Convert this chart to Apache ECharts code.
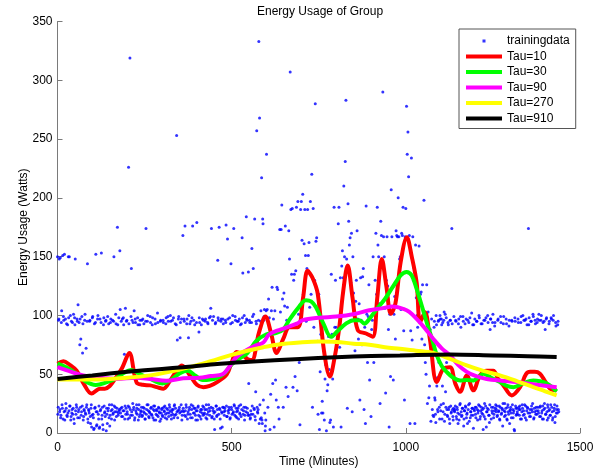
<!DOCTYPE html>
<html>
<head>
<meta charset="utf-8">
<script src="https://cdn.jsdelivr.net/npm/echarts@6/dist/echarts.min.js"></script>
<style>
html,body{margin:0;padding:0;background:#fff;}
#chart{width:602px;height:473px;}
</style>
</head>
<body>
<div id="chart"></div>
<script>
// Energy usage (Watts), one row per hour. Even minutes 0,2,...,1438
var trainingDataEven = [
150,22,97,18,149,15,104,21,12,96,152,19,25,93,14,17,98,150,23,11,95,20,16,101,8,92,19,24,97,13,
18,94,75,22,15,99,68,11,20,96,17,72,24,144,9,19,95,14,21,5,98,16,3,93,22,152,6,18,100,12,
4,97,20,153,15,7,92,23,18,95,2,16,99,21,13,6,94,19,24,96,17,150,11,22,93,18,175,15,98,20,
105,21,14,97,19,92,67,23,16,95,18,12,226,22,319,15,140,96,25,20,104,13,94,17,21,98,11,24,92,16,
19,96,15,22,93,17,12,174,20,95,24,14,18,99,21,16,92,13,23,19,97,11,20,15,94,22,18,10,96,17,
21,14,94,19,23,16,98,12,20,95,17,22,100,15,18,96,20,13,24,93,16,253,79,19,99,22,81,18,97,15,
168,18,95,176,14,22,97,16,81,20,93,13,24,98,176,17,21,92,15,19,179,11,23,86,94,18,12,20,97,15,
22,17,95,13,20,16,93,24,98,19,106,174,14,21,99,12,18,94,23,15,147,96,175,20,4,97,17,22,93,18,
21,96,177,14,165,19,22,98,13,144,20,94,17,174,23,99,14,18,95,21,12,97,16,24,93,166,136,19,100,15,
22,184,96,17,137,15,94,13,16,157,99,140,21,182,11,95,257,18,20,333,268,12,104,217,8,178,96,105,2,11,
237,105,22,114,98,3,33,104,124,42,97,5,104,45,28,124,122,22,12,173,103,173,194,114,22,119,108,176,39,96,
107,31,172,148,307,190,135,191,39,130,135,48,138,192,36,197,101,60,7,190,197,164,203,118,161,190,151,95,140,190,
151,162,107,197,118,220,22,191,90,130,280,163,166,78,16,118,3,52,84,17,27,17,70,11,46,58,2,36,41,82,
54,9,11,135,84,46,5,192,90,130,90,76,80,178,192,73,132,5,142,155,132,210,150,231,283,148,21,195,180,160,
166,128,170,18,150,119,100,70,112,130,172,97,80,110,28,132,96,75,133,140,20,90,8,193,101,60,99,126,45,104,
14,88,96,150,60,101,130,170,118,192,160,150,110,25,180,168,106,290,167,150,106,34,130,167,125,88,5,101,48,207,
167,124,45,101,116,80,172,168,167,200,167,148,150,105,170,168,192,87,28,167,191,278,237,256,218,168,8,87,234,79,
167,130,140,8,160,115,100,90,100,159,94,118,120,80,126,98,198,75,60,50,126,25,103,30,40,88,10,97,20,15,
14,95,28,9,92,47,18,96,22,100,19,97,12,94,25,103,16,35,98,20,14,92,22,8,96,17,174,20,11,99,
18,23,95,12,20,8,97,16,25,90,14,21,99,6,19,93,22,13,17,96,24,10,98,18,15,21,92,4,20,97,
16,22,95,11,19,100,23,14,93,17,20,3,96,25,12,98,18,21,94,15,9,88,97,22,17,101,13,19,94,24,
20,14,96,18,23,11,99,16,21,6,93,19,25,15,97,12,22,18,91,8,20,17,96,24,13,19,2,95,21,16,
18,97,22,15,20,94,12,24,100,19,16,96,23,11,92,21,174,98,17,14,95,20,25,99,13,18,93,22,16,97,
19,101,14,23,96,17,12,94,20,25,88,16,98,11,22,19,95,15,24,97,18,13,100,21,9,94,17,23,92,20
];
// Odd minutes 1,3,...,599 (morning block)
var trainingDataOddEarly = [
16,96,148,20,13,94,24,151,99,18,11,97,21,15,92,150,19,23,100,14,17,94,21,12,98,148,16,22,95,109,
20,13,97,80,18,23,93,14,19,101,16,22,95,12,20,17,96,8,24,15,99,13,4,21,94,18,7,97,16,23,
5,19,94,12,22,3,98,17,14,96,21,8,19,93,24,15,97,12,20,16,95,23,18,101,14,21,92,17,19,155,
17,95,22,14,98,19,12,106,21,96,16,23,93,13,20,99,18,15,94,22,11,97,19,24,16,92,20,14,96,18,
22,14,97,18,21,12,95,16,24,100,19,13,17,94,22,15,98,20,11,23,93,16,19,102,14,21,17,95,12,20,
15,96,22,18,13,93,21,17,99,14,24,19,95,12,20,16,98,23,15,21,92,18,13,97,20,17,94,24,11,19,
21,97,15,19,24,93,12,18,100,22,16,95,20,13,23,96,17,21,11,94,19,22,15,98,14,20,92,17,23,96,
16,20,97,24,12,94,18,21,15,99,22,13,96,19,17,3,93,23,14,20,98,16,21,12,95,18,5,97,22,15,
19,94,23,14,97,17,20,12,93,22,16,100,18,24,15,96,21,13,19,95,23,17,92,14,20,98,16,22,11,94,
18,97,21,15,42,96,12,19,94,23,16,101,20,14,35,93,22,17,96,8,24,95,13,11,182,28,99,17,6,104
];
// Odd minutes 1081,1083,...,1439 (evening block)
var trainingDataOddLate = [
90,30,16,100,40,20,95,60,12,97,24,92,40,18,96,10,101,22,60,15,94,20,12,96,23,18,93,14,21,19,
20,96,14,22,17,93,11,24,99,18,15,21,95,12,19,23,97,16,8,20,94,25,13,18,102,21,15,92,19,22,
13,95,20,17,24,98,12,19,22,93,16,21,14,96,23,5,18,100,20,15,24,97,12,19,94,22,16,91,21,18,
23,15,97,19,12,22,94,17,20,25,99,14,18,21,93,11,24,16,96,19,22,13,95,20,17,3,98,23,15,21,
16,94,20,23,12,99,18,21,15,96,24,13,97,19,22,17,92,14,20,95,23,18,101,12,21,96,16,19,94,22,
17,96,22,14,100,19,23,12,95,21,16,97,18,24,13,93,20,15,98,22,11,96,19,24,14,91,20,17,95,18
];
var oddEarlyStart = 1, oddLateStart = 1081;

// Smoothed curves: [minute, watts]
var tau10 = [[0,59],[17,61],[35,58],[55,53],[75,42],[98,33.5],[122,37.7],[136,37.7],[150,40],[165,46],[185,55],[206,68],[227,43],[245,41],[266,40.5],[285,39],[304,37.7],[322,44],[342,53],[357,57.5],[380,49],[400,41],[419,39],[437,40],[457,43],[486,50],[500,60],[514,69],[529,67],[545,63],[558,62],[578,85],[597,99],[613,85],[629,68],[648,80],[666,90],[690,90],[705,115],[718,138],[732,132],[747,118.5],[765,70],[782,48],[796,65],[809,90],[820,120],[833,142.5],[847,115],[862,87.5],[886,84.6],[905,81.8],[918,115],[931,148],[944,125],[957,101.5],[970,110],[985,145],[1003,166.5],[1017,150],[1031,128],[1041,94.5],[1055,102.7],[1069,80],[1089,43.4],[1108,54.7],[1127,56],[1142,42],[1156,35],[1175,49],[1194,36.3],[1213,49],[1232,53],[1251,53],[1265,46],[1280,40.5],[1304,32],[1328,39],[1345,50],[1357,52],[1370,52],[1385,50.4],[1400,44],[1414,37.7],[1433,36.3]];
var tau30 = [[0,59],[25,56],[53,50.7],[80,44],[110,40.8],[140,43],[168,46.4],[190,51],[211,53.5],[238,50],[264,46.4],[302,42.2],[330,46],[350,50.7],[374,53],[395,49],[417,45],[455,46.4],[480,51],[498,57.8],[520,63],[545,68],[570,78],[600,84],[627,85],[648,88],[665,96],[690,106],[713,113],[728,112],[742,107],[765,92],[785,81.8],[805,87],[828,93],[850,96],[867,96],[881,93],[898,98],[914,104.4],[940,114],[962,124],[985,134],[1002,137],[1017,134],[1031,122.5],[1046,108],[1060,94],[1075,80],[1089,66],[1103,57],[1117,52],[1136,47],[1156,44.7],[1175,45],[1194,44.7],[1210,48],[1223,50.4],[1245,47],[1270,43.4],[1290,40],[1309,39],[1335,42],[1366,44.7],[1385,44],[1405,42],[1420,39],[1433,35.4]];
var tau90 = [[0,56],[40,52],[74,49],[120,47],[170,46],[225,47],[266,46],[312,44.5],[361,46.5],[407,47],[440,48.5],[474,50],[495,57],[512,64],[540,70],[565,74],[591,77],[608,84],[640,88],[687,93],[704,96],[750,98],[800,99],[850,101],[895,104.4],[930,106],[962,107.5],[993,105.5],[1010,103],[1031,97],[1055,89],[1079,80],[1103,72],[1127,66],[1150,58],[1175,52],[1200,48.5],[1232,46],[1275,44.5],[1318,43.4],[1375,41],[1433,39]];
var tau270 = [[0,45.6],[60,45.5],[122,45.6],[200,47],[266,49],[320,52],[380,56],[440,61],[495,66],[545,70],[591,73],[640,75.5],[696,77],[750,77.8],[800,77.5],[850,76],[895,75],[940,73],[983,71.6],[1029,70],[1079,68],[1127,63],[1175,57.5],[1220,53],[1270,49],[1320,44],[1366,39],[1400,35.5],[1433,32]];
var tau910 = [[0,46],[100,49],[200,52],[300,54.5],[361,56],[450,58.5],[550,60.5],[696,63],[800,64.5],[900,65.5],[983,66],[1127,66.8],[1250,66],[1350,65.3],[1433,64.6]];

var xTicks = {min: 0, max: 1500, interval: 500};
var yTicks = {min: 0, max: 350, interval: 50};
var seriesNames = ['trainingdata', 'Tau=10', 'Tau=30', 'Tau=90', 'Tau=270', 'Tau=910'];
var seriesColors = ['#0000ff', '#ff0000', '#00ff00', '#ff00ff', '#ffff00', '#000000'];

var FONT = '"Liberation Sans", Arial, Helvetica, sans-serif';
var scatterPoints = [];
trainingDataEven.forEach(function (v, i) { scatterPoints.push([i * 2, v]); });
trainingDataOddEarly.forEach(function (v, i) { scatterPoints.push([oddEarlyStart + i * 2, v]); });
trainingDataOddLate.forEach(function (v, i) { scatterPoints.push([oddLateStart + i * 2, v]); });
var curves = [tau10, tau30, tau90, tau270, tau910];

var lineIcon = 'path://M0,0M36,14M0,5h36v4h-36z';
var dotIcon = 'path://M0,0M36,14M16.5,5.5h3v3h-3z';

var series = [{
  name: seriesNames[0], type: 'scatter', data: scatterPoints,
  symbol: 'circle', symbolSize: 3,
  itemStyle: {color: seriesColors[0]}, color: seriesColors[0],
  silent: true, z: 1
}];
curves.forEach(function (c, k) {
  series.push({
    name: seriesNames[k + 1], type: 'line', data: c,
    smooth: 0.35, showSymbol: false, symbol: 'none',
    color: seriesColors[k + 1],
    itemStyle: {color: seriesColors[k + 1]},
    lineStyle: {color: seriesColors[k + 1], width: 4},
    silent: true, z: 2 + k
  });
});

var axisColor = '#7a7a7a';
var option = {
  animation: false,
  backgroundColor: '#fff',
  title: {
    text: 'Energy Usage of Group', left: 257, top: 6, padding: 0,
    textStyle: {fontFamily: FONT, fontSize: 12, fontWeight: 'normal', color: '#000'}
  },
  grid: {left: 57.5, right: 22, top: 21.5, bottom: 38.5, containLabel: false},
  legend: {
    orient: 'vertical', left: 459, top: 29,
    padding: [5, 6, 3, 7], itemWidth: 36, itemHeight: 14, itemGap: 1.5,
    borderColor: '#555', borderWidth: 1, backgroundColor: '#fff',
    textStyle: {fontFamily: FONT, fontSize: 12, color: '#000'},
    data: seriesNames.map(function (n, i) {
      return {name: n, icon: i === 0 ? dotIcon : lineIcon, itemStyle: {color: seriesColors[i]}};
    })
  },
  xAxis: {
    type: 'value', min: xTicks.min, max: xTicks.max, interval: xTicks.interval,
    name: 'Time (Minutes)', nameLocation: 'middle', nameGap: 23, nameMoveOverlap: false,
    nameTextStyle: {fontFamily: FONT, fontSize: 12, color: '#000'},
    axisLine: {show: true, lineStyle: {color: axisColor, width: 1}},
    axisTick: {show: true, inside: true, length: 5, lineStyle: {color: axisColor}},
    axisLabel: {fontFamily: FONT, fontSize: 12, color: '#000', margin: 9,
      formatter: function (v) { return String(v); }},
    splitLine: {show: false}
  },
  yAxis: {
    type: 'value', min: yTicks.min, max: yTicks.max, interval: yTicks.interval,
    name: 'Energy Usage (Watts)', nameLocation: 'middle', nameGap: 28, nameMoveOverlap: false,
    nameTextStyle: {fontFamily: FONT, fontSize: 12, color: '#000'},
    axisLine: {show: true, lineStyle: {color: axisColor, width: 1}},
    axisTick: {show: true, inside: true, length: 5, lineStyle: {color: axisColor}},
    axisLabel: {fontFamily: FONT, fontSize: 12, color: '#000', margin: 5,
      formatter: function (v) { return String(v); }},
    splitLine: {show: false}
  },
  series: series
};

var chart = echarts.init(document.getElementById('chart'), null, {renderer: 'canvas'});
chart.setOption(option);
</script>
</body>
</html>
